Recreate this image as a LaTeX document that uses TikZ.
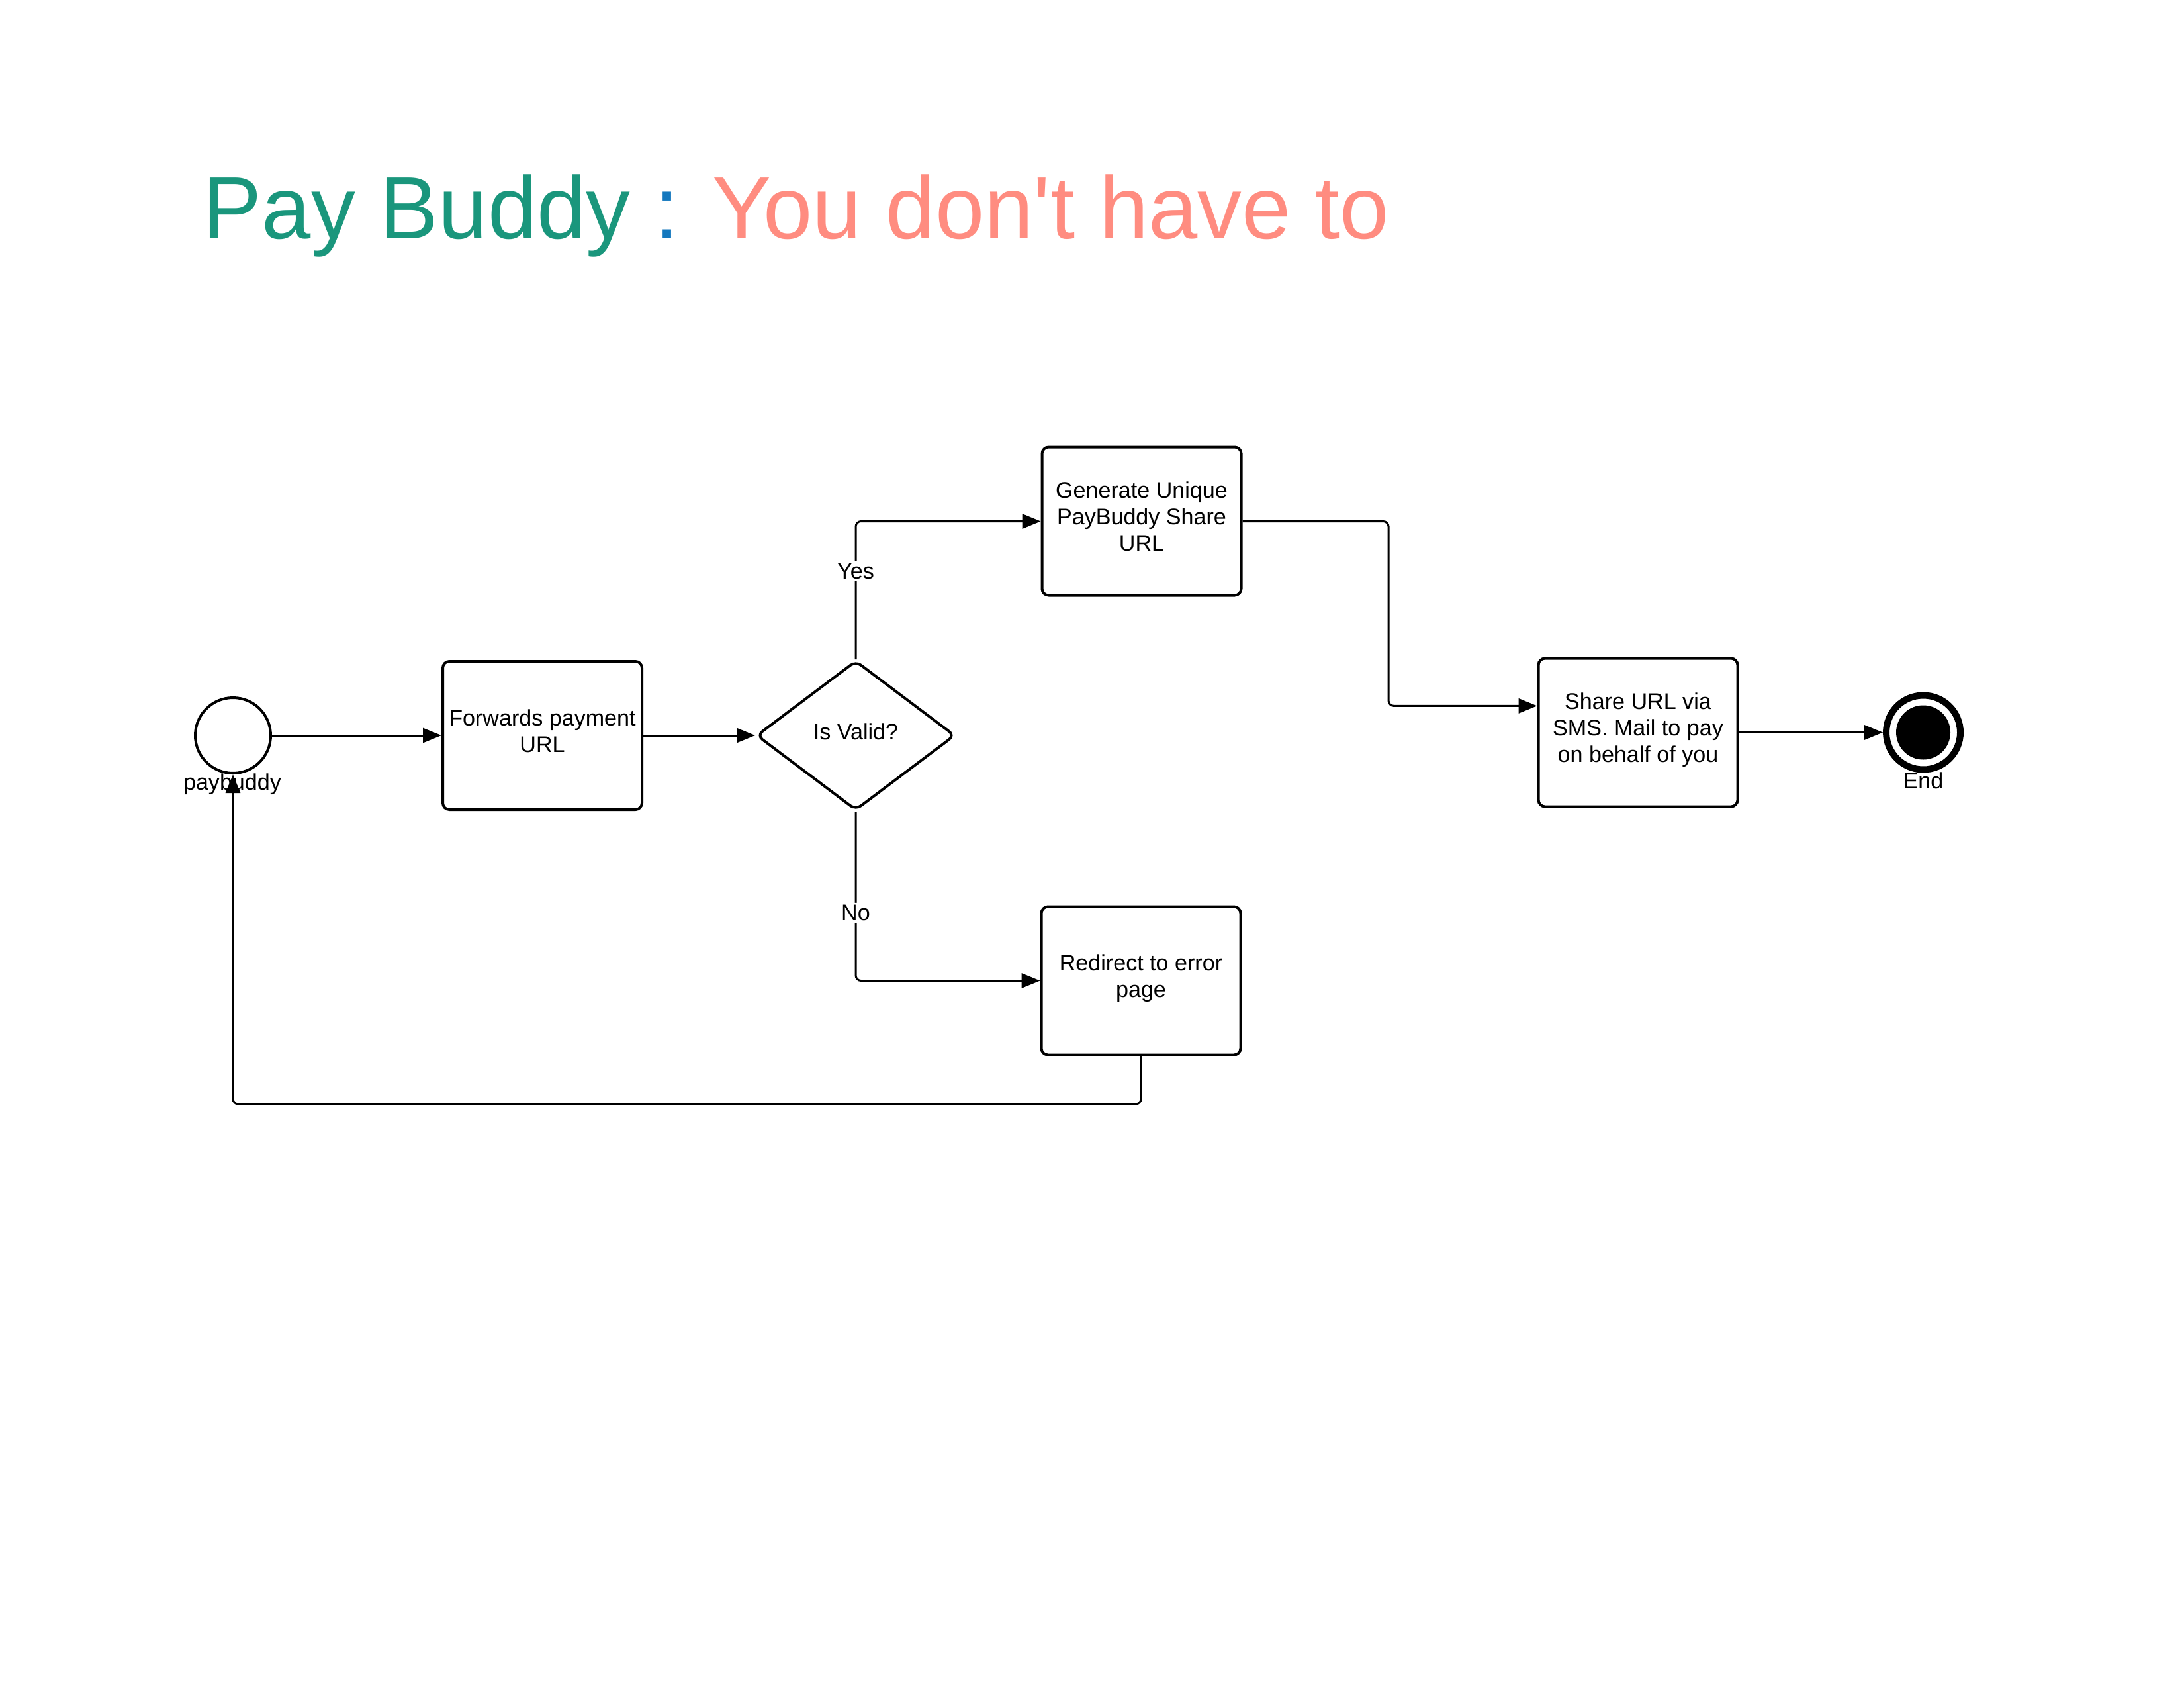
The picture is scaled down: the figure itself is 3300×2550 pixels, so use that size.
\documentclass[tikz,border=0pt]{standalone}
\usepackage{fontspec}
\setmainfont{Liberation Sans}[Ligatures=TeXOff]
\usetikzlibrary{arrows.meta,shapes.geometric,calc}
\definecolor{ttlgreen}{RGB}{26,150,124}
\definecolor{ttlblue}{RGB}{20,120,190}
\definecolor{ttlsalmon}{RGB}{255,140,128}
\newcommand\pbfont{\fontsize{9.7pt}{11.4pt}\selectfont}
\newcommand\pbstrut{\rule[-4pt]{0pt}{11.5pt}}
\begin{document}
\begin{tikzpicture}[x=0.1mm,y=-0.1mm,
  box/.style={draw,line width=0.4mm,rounded corners=1mm,minimum width=30.1mm,minimum height=22.4mm,inner sep=0pt,align=center,font=\pbfont,
    execute at begin node=\pbstrut,execute at end node=\pbstrut},
  decision/.style={draw,diamond,line width=0.4mm,rounded corners=1mm,minimum width=30mm,minimum height=22.6mm,aspect=1.33,inner sep=0pt,font=\pbfont,
    execute at begin node=\pbstrut},
  startc/.style={draw,circle,line width=0.4mm,minimum size=11.4mm,inner sep=0pt},
  endc/.style={draw,circle,line width=1mm,minimum size=11.2mm,inner sep=0pt},
  lbl/.style={font=\pbfont,fill=white,inner sep=1pt},
  flow/.style={line width=0.3mm,rounded corners=0.8mm,-{Triangle[length=2.8mm,width=2.2mm]}}]
\useasboundingbox (0,0) rectangle (3300,2550);
\node[anchor=base west,inner sep=0pt,font=\fontsize{38pt}{45pt}\selectfont] (title) at (306,361)
  {\textcolor{ttlgreen}{Pay Buddy} \textcolor{ttlblue}{:} \textcolor{ttlsalmon}{You don't have to}};
\node[startc] (start) at (352,1111) {};
\node[font=\pbfont,anchor=base,inner sep=0pt] (startlbl) at (351,1193) {paybuddy};
\node[box] (fwd) at (819.5,1111) {Forwards payment\\URL};
\node[decision] (dia) at (1293,1111) {Is Valid?};
\node[box] (gen) at (1725,787.5) {Generate Unique\\PayBuddy Share\\URL};
\node[box] (red) at (1724,1481.5) {Redirect to error\\page};
\node[box] (share) at (2475,1106.5) {Share URL via\\SMS. Mail to pay\\on behalf of you};
\node[endc] (end) at (2906,1106.5) {};
\fill (end.center) circle (4.1mm);
\node[font=\pbfont,inner sep=0pt] (endlbl) at (2906,1179) {End};
\coordinate (gx) at (2098,787.5);
\coordinate (sharein) at ($(share.north west)!0.324!(share.south west)$);
\coordinate (loopy) at (0,1668);
\draw[flow] (start.east) -- (fwd.west);
\draw[flow] (fwd.east) -- (dia.west);
\draw[flow] (dia.north) |- node[lbl,pos=0.32] {Yes} (gen.west);
\draw[flow] (dia.south) |- node[lbl,pos=0.3] {No} (red.west);
\draw[flow] (gen.east) -- (gx) |- (sharein);
\draw[flow] (share.east) -- (end.west);
\draw[flow] (red.south) -- (red.south |- loopy) -| (start.south);
\end{tikzpicture}
\end{document}
